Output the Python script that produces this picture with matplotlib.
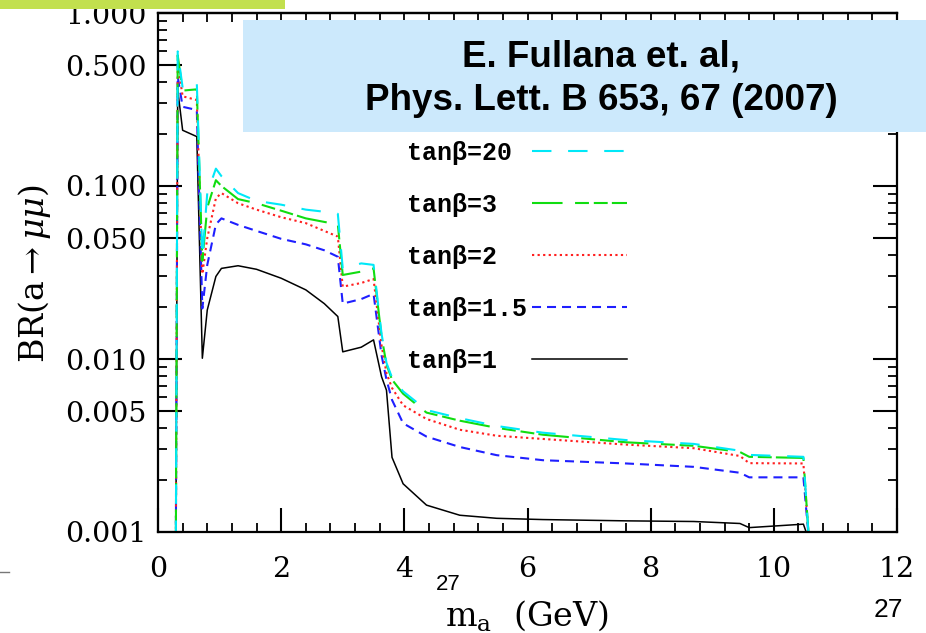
import numpy as np
import matplotlib.pyplot as plt
from matplotlib.ticker import FixedLocator, MultipleLocator, FormatStrFormatter, NullFormatter
from matplotlib.patches import Rectangle
from matplotlib.lines import Line2D

plt.rcParams['font.family'] = 'DejaVu Serif'
plt.rcParams['mathtext.fontset'] = 'dejavuserif'
plt.rcParams['lines.scale_dashes'] = False

# pseudoscalar mass grid (GeV) and BR(a -> mu mu) per tan(beta)
mass = [0.29, 0.32, 0.40, 0.63, 0.72, 0.80, 0.94, 1.03, 1.30, 1.60, 2.00, 2.40, 2.70, 2.92, 3.00,
        3.30, 3.50, 3.63, 3.71, 3.80, 3.98, 4.36, 4.90, 5.50, 6.25, 7.60, 8.70, 9.45, 9.60, 10.48, 10.57]
br_tb1 = [0.0009, 0.36, 0.21, 0.193, 0.0101, 0.0192, 0.030, 0.0334, 0.0346, 0.033, 0.0293, 0.0251, 0.0209,
          0.0176, 0.011, 0.0117, 0.0129, 0.0079, 0.0066, 0.0027, 0.0019, 0.00143, 0.00125, 0.0012, 0.00118,
          0.00116, 0.00115, 0.00112, 0.00106, 0.00111, 0.0009]
br_tb15 = [0.0009, 0.43, 0.287, 0.275, 0.0196, 0.035, 0.060, 0.065, 0.0596, 0.055, 0.0495, 0.046, 0.0425,
           0.039, 0.0209, 0.0222, 0.0238, 0.0105, 0.0076, 0.0058, 0.00425, 0.00356, 0.0031, 0.00278, 0.0026,
           0.00249, 0.00238, 0.0022, 0.00207, 0.00207, 0.0009]
br_tb2 = [0.0009, 0.51, 0.33, 0.314, 0.031, 0.05, 0.085, 0.091, 0.0795, 0.073, 0.066, 0.061, 0.055,
          0.051, 0.0262, 0.0275, 0.029, 0.012, 0.0083, 0.0068, 0.0054, 0.0045, 0.0039, 0.0036, 0.00345,
          0.0032, 0.00305, 0.00275, 0.0025, 0.00249, 0.0009]
br_tb3 = [0.0009, 0.57, 0.356, 0.362, 0.037, 0.075, 0.108, 0.10, 0.084, 0.0795, 0.072, 0.065, 0.062,
          0.060, 0.0306, 0.032, 0.0334, 0.0135, 0.0093, 0.0076, 0.0063, 0.0049, 0.0044, 0.0040, 0.00365,
          0.0033, 0.00315, 0.0029, 0.00272, 0.00268, 0.0009]
br_tb20 = [0.0009, 0.60, 0.37, 0.395, 0.039, 0.091, 0.126, 0.114, 0.091, 0.082, 0.078, 0.073, 0.071,
           0.069, 0.0334, 0.0357, 0.035, 0.0140, 0.0095, 0.0078, 0.0065, 0.00507, 0.00455, 0.0041, 0.00375,
           0.0034, 0.00323, 0.00295, 0.00279, 0.00272, 0.0009]
labels = ['tanβ=20', 'tanβ=3', 'tanβ=2', 'tanβ=1.5', 'tanβ=1']

y_major = [0.001, 0.005, 0.01, 0.05, 0.1, 0.5, 1.0]
y_minor = [k * 10.0**e for e in (-3, -2, -1) for k in (2, 3, 4, 6, 7, 8, 9)]

W, H = 926, 633
fig = plt.figure(figsize=(W / 100, H / 100), dpi=100)
ax = fig.add_axes([158 / W, 1 - 532 / H, (897 - 158) / W, (532 - 13) / H])

l1, = ax.plot(mass, br_tb1, color='black', lw=1.1)
l15, = ax.plot(mass, br_tb15, color='#1f1fff', lw=1.5, dashes=(6.5, 4.3))
l2, = ax.plot(mass, br_tb2, color='#ff2020', lw=1.5, dashes=(1.6, 2.4))
l3, = ax.plot(mass, br_tb3, color='#10dd10', lw=1.5, dashes=(22, 9, 10, 3.5, 10, 3))
l20, = ax.plot(mass, br_tb20, color='#00e8f8', lw=1.5, dashes=(14, 12))

ax.set_yscale('log')
ax.set_xlim(0, 12)
ax.set_ylim(1e-3, 1)
ax.yaxis.set_major_locator(FixedLocator(y_major))
ax.yaxis.set_minor_locator(FixedLocator(y_minor))
ax.yaxis.set_major_formatter(FormatStrFormatter('%.3f'))
ax.yaxis.set_minor_formatter(NullFormatter())
ax.xaxis.set_major_locator(MultipleLocator(2))
ax.xaxis.set_minor_locator(MultipleLocator(0.4))

ax.tick_params(which='major', direction='in', length=17, width=1.5, right=True, labelsize=20.5)
ax.tick_params(which='minor', direction='in', length=6.5, width=1.3, right=True)
ax.tick_params(axis='x', which='major', pad=17)
ax.tick_params(axis='y', which='major', pad=8)
for s in ax.spines.values():
    s.set_linewidth(1.6)

secax = ax.secondary_xaxis('top')
secax.xaxis.set_major_locator(MultipleLocator(0.4))
secax.tick_params(direction='in', length=6.5, width=1.3, labeltop=False)
secax.spines['top'].set_linewidth(1.6)

# monospace labels padded to equal width so that they read left-aligned
width = max(len(t) for t in labels)
ax.legend([l20, l3, l2, l15, l1], [t.ljust(width) for t in labels],
          loc='upper left', bbox_to_anchor=(407 / W, 1 - 141 / H), bbox_transform=fig.transFigure,
          frameon=False, markerfirst=False, handlelength=3.8, handletextpad=0.2, labelspacing=1.12,
          borderpad=0, borderaxespad=0,
          prop=dict(family='Liberation Mono', weight='bold', size=18))

fig.text(35 / W, 1 - 274 / H, r'BR(a$\rightarrow\mu\mu$)', rotation=90, ha='center', va='center', fontsize=24)
fig.text(527 / W, 1 - 626 / H, r'm$_{\rm a}$  (GeV)', ha='center', va='baseline', fontsize=24)

# slide decorations around the figure
fig.add_artist(Rectangle((0, 1 - 9 / H), 285 / W, 9 / H, transform=fig.transFigure,
                         facecolor='#c2e04e', edgecolor='none', zorder=5))
fig.add_artist(Rectangle((243 / W, 1 - 132 / H), (W - 243) / W, (132 - 20) / H, transform=fig.transFigure,
                         facecolor='#cce9fc', edgecolor='none', zorder=5))
fig.text(601 / W, 1 - 57 / H, 'E. Fullana et. al,', ha='center', va='center', fontsize=26.5,
         fontweight='bold', family='Liberation Sans', zorder=6)
fig.text(601 / W, 1 - 100 / H, 'Phys. Lett. B 653, 67 (2007)', ha='center', va='center', fontsize=26.5,
         fontweight='bold', family='Liberation Sans', zorder=6)
fig.text(448 / W, 1 - 585 / H, '27', ha='center', va='center', fontsize=16, family='Liberation Sans')
fig.text(888 / W, 1 - 610 / H, '27', ha='center', va='center', fontsize=19, family='Liberation Sans')
fig.add_artist(Line2D([0, 9 / W], [1 - 572 / H, 1 - 572 / H], transform=fig.transFigure,
                      color='#777777', lw=1))

fig.savefig('out.png', dpi=100)
